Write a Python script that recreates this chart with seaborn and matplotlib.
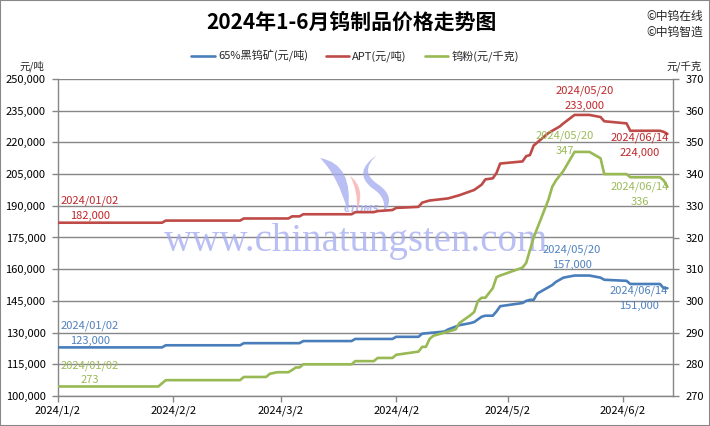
import pandas as pd
import matplotlib
matplotlib.use("Agg")
import matplotlib.pyplot as plt
from matplotlib.ticker import FuncFormatter
from matplotlib.patches import Rectangle, PathPatch
from matplotlib.path import Path
import seaborn as sns

# 65%黑钨矿 (元/吨) - left axis
ore_dates = ["2024-01-02", "2024-01-30", "2024-01-31", "2024-02-20", "2024-02-21", "2024-03-07",
             "2024-03-08", "2024-03-21", "2024-03-22", "2024-04-01", "2024-04-02", "2024-04-08",
             "2024-04-09", "2024-04-12", "2024-04-15", "2024-04-16", "2024-04-19", "2024-04-22",
             "2024-04-23", "2024-04-25", "2024-04-26", "2024-04-28", "2024-04-29", "2024-04-30",
             "2024-05-06", "2024-05-07", "2024-05-08", "2024-05-09", "2024-05-10", "2024-05-13",
             "2024-05-14", "2024-05-15", "2024-05-16", "2024-05-17", "2024-05-20", "2024-05-24",
             "2024-05-27", "2024-05-28", "2024-06-03", "2024-06-04", "2024-06-12", "2024-06-13",
             "2024-06-14"]
ore_prices = [123000, 123000, 124000, 124000, 125000, 125000,
              126000, 126000, 127000, 127000, 128000, 128000,
              129500, 130000, 130500, 131500, 133500, 134500,
              135000, 137500, 138000, 138000, 140000, 142500,
              144000, 145000, 145500, 145500, 148500, 151500,
              152500, 154000, 155000, 156000, 157000, 157000,
              156000, 155000, 154500, 153000, 153000, 151000,
              151000]

# APT (元/吨) - left axis
apt_dates = ["2024-01-02", "2024-01-30", "2024-01-31", "2024-02-20", "2024-02-21", "2024-03-04",
             "2024-03-05", "2024-03-07", "2024-03-08", "2024-03-21", "2024-03-22", "2024-03-27",
             "2024-03-28", "2024-04-01", "2024-04-02", "2024-04-08", "2024-04-09", "2024-04-11",
             "2024-04-16", "2024-04-19", "2024-04-23", "2024-04-25", "2024-04-26", "2024-04-28",
             "2024-04-29", "2024-04-30", "2024-05-06", "2024-05-07", "2024-05-08", "2024-05-09",
             "2024-05-13", "2024-05-14", "2024-05-15", "2024-05-16", "2024-05-17", "2024-05-20",
             "2024-05-24", "2024-05-27", "2024-05-28", "2024-06-03", "2024-06-04", "2024-06-12",
             "2024-06-13", "2024-06-14"]
apt_prices = [182000, 182000, 183000, 183000, 184000, 184000,
              185000, 185000, 186000, 186000, 187000, 187000,
              187500, 188000, 189000, 189500, 191500, 192500,
              193500, 195000, 197500, 200000, 202500, 203000,
              205500, 210000, 211000, 213500, 214000, 218500,
              224500, 225500, 226500, 227500, 229000, 233000,
              233000, 232000, 230000, 229000, 225500, 225500,
              225000, 224000]

# 钨粉 (元/千克) - right axis
powder_dates = ["2024-01-02", "2024-01-29", "2024-01-31", "2024-02-20", "2024-02-21", "2024-02-27",
                "2024-02-28", "2024-03-01", "2024-03-04", "2024-03-05", "2024-03-06", "2024-03-07",
                "2024-03-08", "2024-03-21", "2024-03-22", "2024-03-27", "2024-03-28", "2024-04-01",
                "2024-04-02", "2024-04-08", "2024-04-09", "2024-04-10", "2024-04-11", "2024-04-12",
                "2024-04-15", "2024-04-18", "2024-04-19", "2024-04-22", "2024-04-23", "2024-04-24",
                "2024-04-25", "2024-04-26", "2024-04-28", "2024-04-29", "2024-04-30", "2024-05-06",
                "2024-05-07", "2024-05-08", "2024-05-09", "2024-05-10", "2024-05-13", "2024-05-14",
                "2024-05-15", "2024-05-16", "2024-05-17", "2024-05-20", "2024-05-24", "2024-05-27",
                "2024-05-28", "2024-06-03", "2024-06-04", "2024-06-12", "2024-06-13", "2024-06-14"]
powder_prices = [273, 273, 275, 275, 276, 276,
                 277, 277.5, 277.5, 278.2, 279, 279,
                 280, 280, 281, 281, 282, 282,
                 283, 284, 285.5, 285.5, 288, 289,
                 290, 291, 293, 295.5, 296.5, 300,
                 301, 301, 304, 307.5, 308, 310.5,
                 312, 316, 320, 323, 332, 336,
                 338, 339.5, 341, 347, 347, 345,
                 340, 340, 339, 339, 338, 336]

tick_dates = ["2024-01-02", "2024-02-02", "2024-03-02", "2024-04-02", "2024-05-02", "2024-06-02"]
tick_labels = ["2024/1/2", "2024/2/2", "2024/3/2", "2024/4/2", "2024/5/2", "2024/6/2"]

BLUE = "#4A7EBB"
RED = "#BE4B48"
GREEN = "#98B954"
GRID = "#868686"

ore = pd.DataFrame({"date": pd.to_datetime(ore_dates), "price": ore_prices})
apt = pd.DataFrame({"date": pd.to_datetime(apt_dates), "price": apt_prices})
powder = pd.DataFrame({"date": pd.to_datetime(powder_dates), "price": powder_prices})

sns.set_theme(style="white")
plt.rcParams['font.family'] = ['Noto Sans CJK SC', 'DejaVu Sans']
plt.rcParams['axes.unicode_minus'] = False

fig = plt.figure(figsize=(7.1, 4.26), dpi=100)
ax = fig.add_axes([58 / 710, 1 - 396 / 426, (673 - 58) / 710, (396 - 79) / 426])
ax2 = ax.twinx()

sns.lineplot(data=ore, x="date", y="price", ax=ax, color=BLUE, linewidth=1.9,
             estimator=None, label="65%黑钨矿(元/吨)", zorder=3)
sns.lineplot(data=apt, x="date", y="price", ax=ax, color=RED, linewidth=1.9,
             estimator=None, label="APT(元/吨)", zorder=3)
sns.lineplot(data=powder, x="date", y="price", ax=ax2, color=GREEN, linewidth=1.9,
             estimator=None, label="钨粉(元/千克)", zorder=3)

h1, l1 = ax.get_legend_handles_labels()
h2, l2 = ax2.get_legend_handles_labels()
ax.get_legend().remove()
ax2.get_legend().remove()

# axes limits / ticks
ax.set_xlim(pd.Timestamp("2024-01-02"), pd.Timestamp("2024-06-15 12:00"))
ax.set_ylim(100000, 250000)
ax.set_yticks(range(100000, 250001, 15000))
ax.yaxis.set_major_formatter(FuncFormatter(lambda v, p: f"{int(v):,}"))
ax2.set_ylim(270, 370)
ax2.set_yticks(range(270, 371, 10))
ax.set_xticks(pd.to_datetime(tick_dates))
ax.set_xticklabels(tick_labels)
ax.set_xlabel("")
ax.set_ylabel("")
ax2.set_ylabel("")

ax.yaxis.grid(True, color=GRID, linewidth=1.0)
ax.set_axisbelow(True)

for a in (ax, ax2):
    for s in a.spines.values():
        s.set_visible(False)
ax.spines["left"].set_visible(True)
ax.spines["bottom"].set_visible(True)
ax2.spines["right"].set_visible(True)
for s in (ax.spines["left"], ax.spines["bottom"], ax2.spines["right"]):
    s.set_color(GRID)
    s.set_linewidth(1.0)

ax.tick_params(axis="y", left=True, length=4, width=1, color=GRID, labelsize=8, pad=5, labelcolor="black")
ax.tick_params(axis="x", bottom=True, length=4, width=1, color=GRID, labelsize=8, pad=3, labelcolor="black")
ax2.tick_params(axis="y", right=True, length=4, width=1, color=GRID, labelsize=8, pad=5, labelcolor="black")

# watermark text and a rough logo
def fx(px):
    return px / 710


def fy(py):
    return 1 - py / 426


ax.text(fx(356), fy(241), "www.chinatungsten.com", transform=fig.transFigure,
        ha="center", va="center", fontsize=28, family="Liberation Serif",
        color="#a3aaf0", alpha=0.75, zorder=1)
ax.text(fx(362), fy(210), "CTOMS", transform=fig.transFigure, ha="center", va="center",
        fontsize=6.5, fontweight="bold", fontstyle="italic", family="DejaVu Sans",
        color="#a3aaf0", alpha=0.8, zorder=1)

C3 = Path.CURVE3
logo_shapes = [
    # left blue crescent
    ([(320, 158), (354, 164), (348, 212), (338, 176), (320, 158)],
     [Path.MOVETO, C3, C3, C3, C3], "#a3aaf0"),
    # pink leaf
    ([(350, 176), (366, 188), (357, 211), (358, 190), (350, 176)],
     [Path.MOVETO, C3, C3, C3, C3], "#f6aaaa"),
    # right blue S
    ([(377, 155), (358, 172), (379, 185), (397, 198), (383, 213),
      (388, 198), (372, 188), (352, 172), (377, 155)],
     [Path.MOVETO, C3, C3, C3, C3, C3, C3, C3, C3], "#a3aaf0"),
]
for pts, codes, col in logo_shapes:
    verts = [(fx(x), fy(y)) for x, y in pts]
    ax.add_patch(PathPatch(Path(verts, codes), transform=fig.transFigure, facecolor=col,
                           edgecolor="none", alpha=0.75, zorder=1))

# point labels
def label(a, date, value, date_txt, val_txt, dx, dy, color):
    ts = pd.Timestamp(date)
    a.annotate(date_txt, (ts, value), xytext=(dx * 0.72, dy[0] * 0.72), textcoords="offset points",
               ha="center", va="center", fontsize=8, color=color, zorder=5)
    a.annotate(val_txt, (ts, value), xytext=(dx * 0.72, dy[1] * 0.72), textcoords="offset points",
               ha="center", va="center", fontsize=8, color=color, zorder=5)

RED_T = "#C0282B"
BLUE_T = "#4F81BD"
GREEN_T = "#9BBB59"
label(ax, "2024-01-02", apt_prices[0], "2024/01/02", "182,000", 32, (21.5, 6.7), RED_T)
label(ax, "2024-01-02", ore_prices[0], "2024/01/02", "123,000", 32, (21.5, 6.7), BLUE_T)
label(ax2, "2024-01-02", powder_prices[0], "2024/01/02", "273", 32, (21, 6.7), GREEN_T)
label(ax, "2024-05-20", 233000, "2024/05/20", "233,000", 10, (23.7, 8.7), RED_T)
label(ax2, "2024-05-20", 347, "2024/05/20", "347", -10, (16, 1), GREEN_T)
label(ax, "2024-05-20", 157000, "2024/05/20", "157,000", -2.5, (25.7, 10.7), BLUE_T)
label(ax, "2024-06-14", apt_prices[-1], "2024/06/14", "224,000", -27.6, (-4, -19), RED_T)
label(ax2, "2024-06-14", powder_prices[-1], "2024/06/14", "336", -27.6, (0, -15), GREEN_T)
label(ax, "2024-06-14", ore_prices[-1], "2024/06/14", "151,000", -28.6, (-3, -18), BLUE_T)

# title, units, legend, credits
fig.text(fx(351), fy(22), "2024年1-6月钨制品价格走势图", ha="center", va="center",
         fontsize=15, fontweight="bold", color="black")
fig.text(fx(32), fy(66), "元/吨", ha="center", va="center", fontsize=7.5)
fig.text(fx(684), fy(66), "元/千克", ha="center", va="center", fontsize=7.5)
fig.text(fx(646), fy(16), "©中钨在线", ha="left", va="center", fontsize=8.5)
fig.text(fx(646), fy(32), "©中钨智造", ha="left", va="center", fontsize=8.5)

fig.legend(h1 + h2, l1 + l2, loc="center", bbox_to_anchor=(fx(355), fy(56)), ncol=3,
           frameon=False, fontsize=8, handlelength=2.1, columnspacing=1.6, handletextpad=0.3)

fig.patches.append(Rectangle((0, 0), 1, 1, transform=fig.transFigure, fill=False,
                             edgecolor="#888888", linewidth=1.5))

fig.savefig("out.png", dpi=100)
